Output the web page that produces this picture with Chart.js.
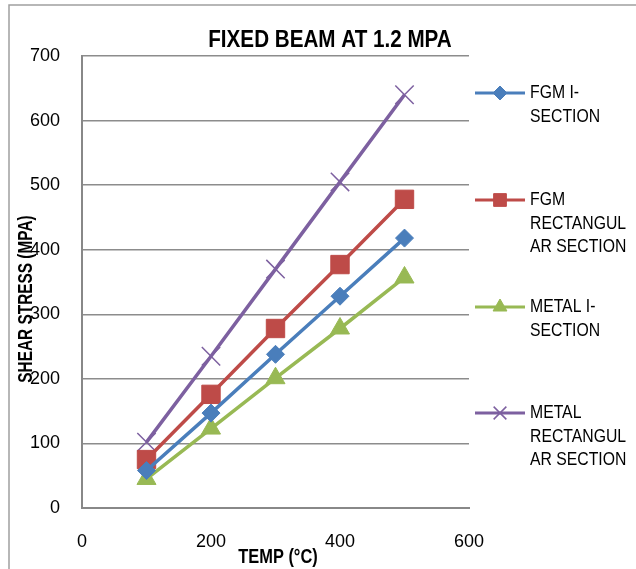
<!DOCTYPE html>
<html>
<head>
<meta charset="utf-8">
<script src="https://cdn.jsdelivr.net/npm/chart.js@4.4.1/dist/chart.umd.min.js"></script>
<style>
  html, body { margin: 0; padding: 0; background: #fff; }
  #wrap { width: 636px; height: 569px; }
</style>
</head>
<body>
<div id="wrap"><canvas id="c" width="636" height="569"></canvas></div>
<script>
// данные
const temps = [100, 200, 300, 400, 500];
const fgmI = [58, 147, 238, 328, 418];
const fgmRect = [75, 176, 278, 377, 478];
const metalI = [45, 123, 201, 278, 357];
const metalRect = [102, 235, 370, 505, 640];

const seriesNames = [
    ['FGM I-', 'SECTION'],
    ['FGM', 'RECTANGUL', 'AR SECTION'],
    ['METAL I-', 'SECTION'],
    ['METAL', 'RECTANGUL', 'AR SECTION']
];
const xTicks = [0, 200, 400, 600];
const yTicks = [0, 100, 200, 300, 400, 500, 600, 700];

const FONT = '"Liberation Sans", Arial, sans-serif';

function pts(values) {
    return temps.map((t, i) => ({ x: t, y: values[i] }));
}

// узкий шрифт как в Excel: сжимаем текст по горизонтали
function narrowText(ctx, text, x, y, font, squeeze) {
    ctx.save();
    ctx.font = font;
    ctx.translate(x, y);
    ctx.scale(squeeze, 1);
    ctx.fillText(text, 0, 0);
    ctx.restore();
}

// рамка, заголовки и легенда справа
const decor = {
    id: 'decor',
    beforeDraw(chart) {
        const ctx = chart.ctx;
        ctx.save();
        ctx.strokeStyle = '#a0a0a0';
        ctx.lineWidth = 1.5;
        ctx.beginPath();
        ctx.moveTo(9, 569);
        ctx.lineTo(9, 5);
        ctx.lineTo(636, 5);
        ctx.stroke();
        ctx.restore();
    },
    afterDraw(chart) {
        const ctx = chart.ctx;
        ctx.save();
        ctx.fillStyle = '#000';
        ctx.textAlign = 'center';
        ctx.textBaseline = 'middle';
        narrowText(ctx, 'FIXED BEAM AT 1.2 MPA', 330, 40, 'bold 24px ' + FONT, 0.86);
        narrowText(ctx, 'TEMP (°C)', 278, 557, 'bold 20px ' + FONT, 0.82);

        ctx.save();
        ctx.translate(26, 299);
        ctx.rotate(-Math.PI / 2);
        narrowText(ctx, 'SHEAR STRESS (MPA)', 0, 0, 'bold 20px ' + FONT, 0.77);
        ctx.restore();

        // легенда
        const rows = [93, 200, 307, 413];
        ctx.textAlign = 'left';
        chart.data.datasets.forEach((ds, i) => {
            const y = rows[i];
            ctx.strokeStyle = ds.borderColor;
            ctx.lineWidth = 3;
            ctx.beginPath();
            ctx.moveTo(475, y);
            ctx.lineTo(525, y);
            ctx.stroke();
            ctx.save();
            ctx.fillStyle = ds.pointBackgroundColor;
            ctx.strokeStyle = ds.pointBorderColor;
            ctx.lineWidth = ds.pointBorderWidth;
            Chart.helpers.drawPoint(ctx, {
                pointStyle: ds.pointStyle,
                radius: ds.legendRadius,
                borderWidth: ds.pointBorderWidth
            }, 500, y);
            ctx.restore();
            ctx.fillStyle = '#000';
            seriesNames[i].forEach((line, k) => {
                narrowText(ctx, line, 530, y + k * 23.5, '19px ' + FONT, 0.83);
            });
        });
        ctx.restore();
    }
};

const ctx = document.getElementById('c').getContext('2d');
new Chart(ctx, {
    type: 'line',
    data: {
        datasets: [
            {
                label: 'FGM I-SECTION',
                data: pts(fgmI),
                borderColor: '#4a7ebb',
                pointBackgroundColor: '#4a7ebb',
                pointBorderColor: '#4a7ebb',
                pointStyle: 'rectRot',
                pointRadius: 9,
                legendRadius: 7,
                pointBorderWidth: 1,
                borderWidth: 3.5
            },
            {
                label: 'FGM RECTANGULAR SECTION',
                data: pts(fgmRect),
                borderColor: '#be4b48',
                pointBackgroundColor: '#be4b48',
                pointBorderColor: '#be4b48',
                pointStyle: 'rect',
                pointRadius: 13,
                legendRadius: 9,
                pointBorderWidth: 1,
                borderWidth: 3.5
            },
            {
                label: 'METAL I-SECTION',
                data: pts(metalI),
                borderColor: '#98b954',
                pointBackgroundColor: '#98b954',
                pointBorderColor: '#98b954',
                pointStyle: 'triangle',
                pointRadius: 11,
                legendRadius: 8,
                pointBorderWidth: 1,
                borderWidth: 3.5
            },
            {
                label: 'METAL RECTANGULAR SECTION',
                data: pts(metalRect),
                borderColor: '#7d60a0',
                pointBackgroundColor: '#7d60a0',
                pointBorderColor: '#7d60a0',
                pointStyle: 'crossRot',
                pointRadius: 13,
                legendRadius: 9,
                pointBorderWidth: 1.5,
                borderWidth: 3.5
            }
        ]
    },
    options: {
        responsive: false,
        animation: false,
        layout: {
            padding: { top: 56, right: 167, left: 0, bottom: 0 }
        },
        plugins: {
            legend: { display: false },
            title: { display: false },
            tooltip: { enabled: false }
        },
        scales: {
            x: {
                type: 'linear',
                min: 0,
                max: 600,
                afterBuildTicks: s => { s.ticks = xTicks.map(v => ({ value: v })); },
                grid: { display: false, drawTicks: false },
                border: { display: true, color: '#888', width: 2 },
                ticks: {
                    color: '#000',
                    padding: 23,
                    font: { family: FONT, size: 18 }
                },
                afterFit: s => { s.height = 61; }
            },
            y: {
                min: 0,
                max: 700,
                afterBuildTicks: s => { s.ticks = yTicks.map(v => ({ value: v })); },
                grid: { color: '#8c8c8c', lineWidth: 1.5, drawTicks: false },
                border: { display: true, color: '#888', width: 2 },
                ticks: {
                    color: '#000',
                    padding: 22,
                    font: { family: FONT, size: 18 }
                },
                afterFit: s => { s.width = 82; }
            }
        }
    },
    plugins: [decor]
});
</script>
</body>
</html>
